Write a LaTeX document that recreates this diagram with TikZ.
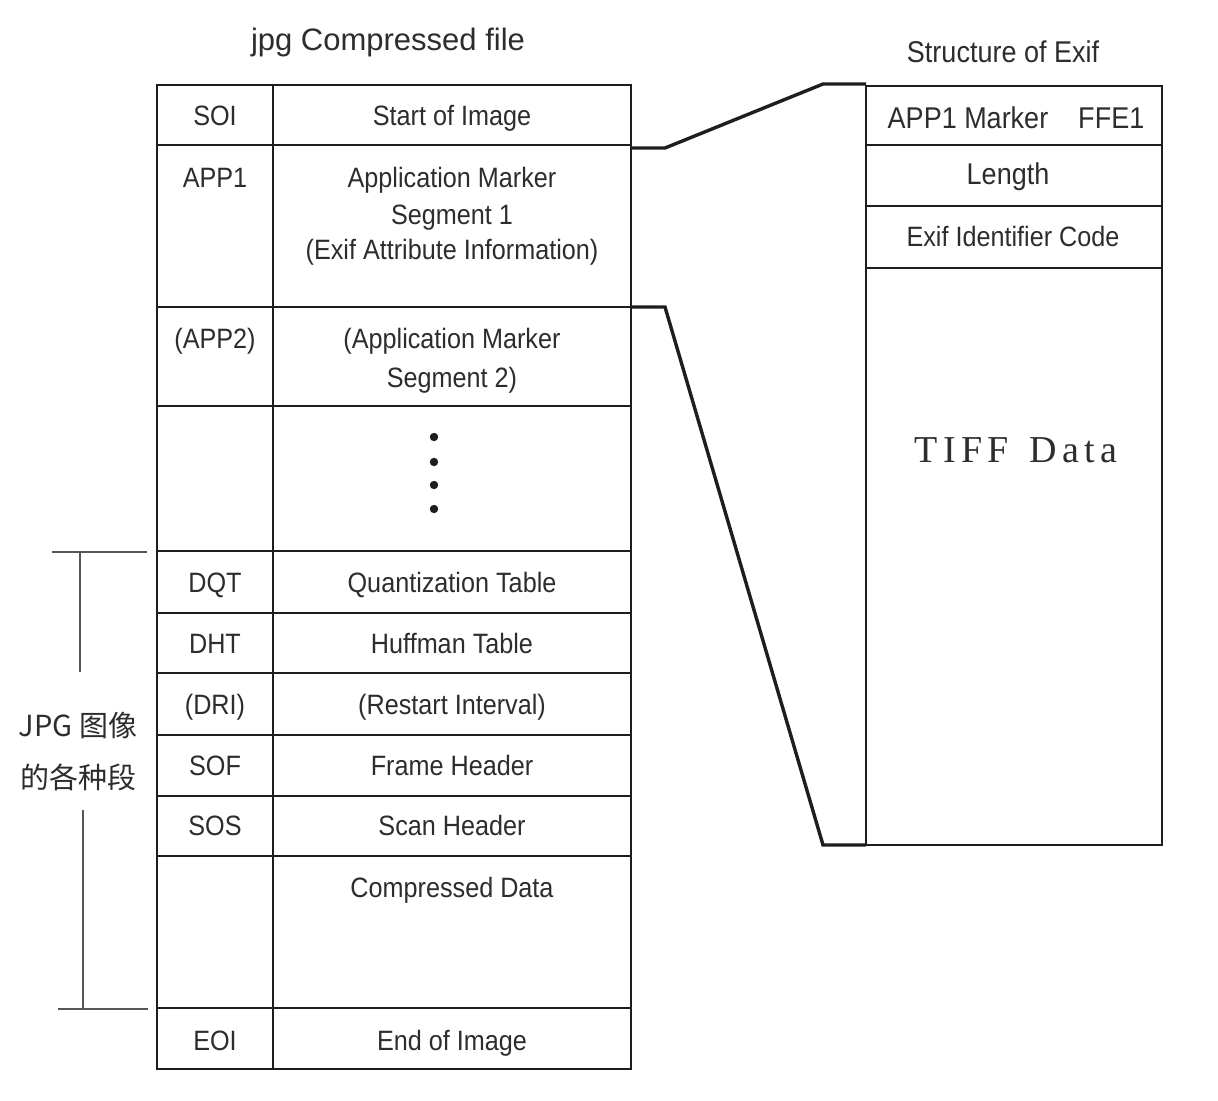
\documentclass[tikz,border=0pt]{standalone}
\usepackage{fontspec}
\setmainfont{Liberation Sans}
\newfontfamily\nfont{Liberation Sans}[FakeStretch=0.9]
\newfontfamily\tfont{Liberation Serif}[LetterSpace=14]
\newfontfamily\cjk{Noto Sans CJK SC}
\definecolor{txt}{RGB}{45,45,45}
\definecolor{ln}{RGB}{30,30,30}
\begin{document}
\begin{tikzpicture}[x=0.5pt,y=-0.5pt,
  tbl/.style={draw=ln,line width=1.2pt},
  conn/.style={draw=ln,line width=1.7pt,line join=miter},
  brk/.style={draw=ln!75,line width=1.1pt},
  lbl/.style={text=txt,inner sep=0pt,anchor=base,font=\nfont\fontsize{14}{18}\selectfont},
  rlbl/.style={text=txt,inner sep=0pt,anchor=base,font=\nfont\fontsize{15}{18}\selectfont},
  title/.style={text=txt,inner sep=0pt,anchor=base,font=\fontsize{15.5}{18}\selectfont}]
\useasboundingbox (0,0) rectangle (1218,1100);
\fill[white] (0,0) rectangle (1218,1100);

% titles
\node[title] (t1) at (388,50) {jpg Compressed file};
\node[title,font=\nfont\fontsize{15}{18}\selectfont] (t2) at (1003,62) {Structure of Exif};

% left table
\draw[tbl] (157,85) rectangle (631,1069);
\draw[tbl] (273,85) -- (273,1069);
\foreach \y in {145,307,406,551,613,673,735,796,856,1008}
  \draw[tbl] (157,\y) -- (631,\y);

\node[lbl] (soi) at (215,125) {SOI};
\node[lbl] (soid) at (452,125) {Start of Image};
\node[lbl] (app1) at (215,187) {APP1};
\node[lbl] (app1a) at (452,187) {Application Marker};
\node[lbl] (app1b) at (452,224) {Segment 1};
\node[lbl] (app1c) at (452,259) {(Exif Attribute Information)};
\node[lbl] (app2) at (215,348) {(APP2)};
\node[lbl] (app2a) at (452,348) {(Application Marker};
\node[lbl] (app2b) at (452,387) {Segment 2)};
\foreach \y [count=\i] in {437,462,485,509}
  \fill[ln] (434,\y) circle[radius=2.1pt];
\node[lbl] (dqt) at (215,592) {DQT};
\node[lbl] (dqtd) at (452,592) {Quantization Table};
\node[lbl] (dht) at (215,653) {DHT};
\node[lbl] (dhtd) at (452,653) {Huffman Table};
\node[lbl] (dri) at (215,714) {(DRI)};
\node[lbl] (drid) at (452,714) {(Restart Interval)};
\node[lbl] (sof) at (215,775) {SOF};
\node[lbl] (sofd) at (452,775) {Frame Header};
\node[lbl] (sos) at (215,835) {SOS};
\node[lbl] (sosd) at (452,835) {Scan Header};
\node[lbl] (cd) at (452,897) {Compressed Data};
\node[lbl] (eoi) at (215,1050) {EOI};
\node[lbl] (eoid) at (452,1050) {End of Image};

% right table
\draw[tbl] (866,86) rectangle (1162,845);
\foreach \y in {145,206,268}
  \draw[tbl] (866,\y) -- (1162,\y);
\node[rlbl] (m) at (1016,128) {APP1 Marker\hspace{1em}FFE1};
\node[rlbl] (len) at (1008,184) {Length};
\node[lbl] (eic) at (1013,246) {Exif Identifier Code};
\node[text=txt,inner sep=0pt,anchor=base,font=\tfont\fontsize{19}{22}\selectfont] (tiff) at (1016,462) {TIFF\, Data};

% connectors
\coordinate (a1) at (631,148);
\coordinate (a2) at (665,148);
\coordinate (a3) at (823,84);
\coordinate (a4) at (866,84);
\coordinate (b1) at (631,307);
\coordinate (b2) at (665,307);
\coordinate (b3) at (823,845);
\coordinate (b4) at (866,845);
\draw[conn] (a1) -- (a2) -- (a3) -- (a4);
\draw[conn] (b1) -- (b2) -- (b3) -- (b4);

% bracket
\coordinate (k1) at (52,552);
\coordinate (k2) at (147,552);
\coordinate (k3) at (80,552);
\coordinate (k4) at (80,672);
\coordinate (k5) at (83,810);
\coordinate (k6) at (83,1009);
\coordinate (k7) at (58,1009);
\coordinate (k8) at (148,1009);
\draw[brk] (k1) -- (k2);
\draw[brk] (k3) -- (k4);
\draw[brk] (k5) -- (k6);
\draw[brk] (k7) -- (k8);
\node[text=txt,inner sep=0pt,align=center,font=\cjk\fontsize{14.5}{26}\selectfont] (jpg) at (78,752) {JPG 图像\\的各种段};
\end{tikzpicture}
\end{document}
